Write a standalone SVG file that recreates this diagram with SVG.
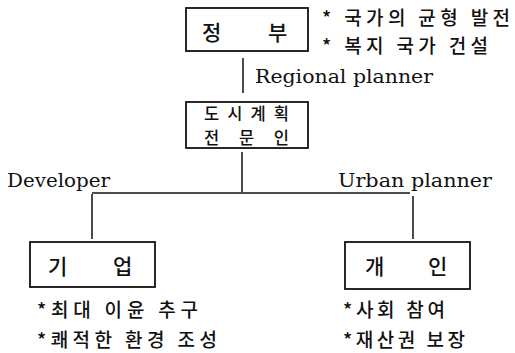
<svg xmlns="http://www.w3.org/2000/svg" width="515" height="353" viewBox="0 0 515 353">
<style>
.box{fill:none;stroke:#111;stroke-width:1.8}
.ln{stroke:#111;stroke-width:1.5;fill:none}
.ko{font-family:"Noto Sans CJK KR","Noto Sans",sans-serif;fill:#111;font-weight:500}
.en{font-family:"DejaVu Serif","Liberation Serif",serif;font-size:18px;fill:#111}
</style>
<rect width="515" height="353" fill="#fff"/>
<g id="connectors">
<line class="ln" x1="243" y1="58" x2="243" y2="93"/>
<line class="ln" x1="242" y1="152" x2="242" y2="192"/>
<line class="ln" x1="92" y1="193" x2="410" y2="193"/>
<line class="ln" x1="92" y1="194" x2="92" y2="239"/>
<line class="ln" x1="413" y1="196" x2="413" y2="239"/>
<text class="en" x="255" y="83" textLength="178" lengthAdjust="spacingAndGlyphs">Regional planner</text>
<text class="en" x="7" y="187" textLength="103" lengthAdjust="spacingAndGlyphs">Developer</text>
<text class="en" x="338" y="187" textLength="154" lengthAdjust="spacingAndGlyphs">Urban planner</text>
</g>
<g id="government">
<rect class="box" x="186" y="8" width="122" height="43"/>
<text class="ko" font-size="21" x="202" y="40">정</text>
<text class="ko" font-size="21" x="268" y="40">부</text>
<text class="ko" font-size="19" x="322" y="25" textLength="188">* 국가의 균형 발전</text>
<text class="ko" font-size="19" x="322" y="53" textLength="166">* 복지 국가 건설</text>
</g>
<g id="planner">
<rect class="box" x="186" y="102" width="122" height="46"/>
<text class="ko" font-size="16.5"><tspan x="204" y="120" textLength="85">도시계획</tspan><tspan x="204" y="144" textLength="85">전 문 인</tspan></text>
</g>
<g id="enterprise">
<rect class="box" x="30" y="242" width="125" height="45"/>
<text class="ko" font-size="21" x="48" y="274">기</text>
<text class="ko" font-size="21" x="113" y="274">업</text>
<text class="ko" font-size="19" x="37" y="317" textLength="161">*최대 이윤 추구</text>
<text class="ko" font-size="19" x="37" y="347" textLength="180">*쾌적한 환경 조성</text>
</g>
<g id="individual">
<rect class="box" x="345" y="242" width="125" height="47"/>
<text class="ko" font-size="21" x="365" y="274">개</text>
<text class="ko" font-size="21" x="428" y="274">인</text>
<text class="ko" font-size="19" x="343" y="317" textLength="102">*사회 참여</text>
<text class="ko" font-size="19" x="343" y="347" textLength="122">*재산권 보장</text>
</g>
</svg>
